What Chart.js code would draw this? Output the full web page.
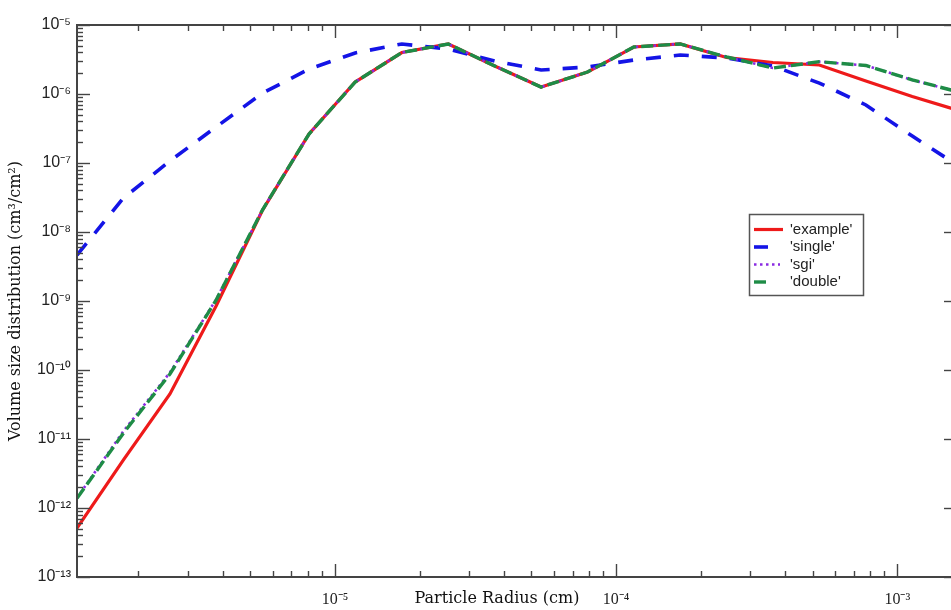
<!DOCTYPE html>
<html>
<head>
<meta charset="utf-8">
<script src="https://cdn.jsdelivr.net/npm/chart.js@4.4.1/dist/chart.umd.min.js"></script>
<style>
  html, body { margin: 0; padding: 0; background: #ffffff; overflow: hidden; }
  #wrap { width: 951px; height: 610px; overflow: hidden; position: relative; }
  canvas { display: block; }
</style>
</head>
<body>
<div id="wrap"><canvas id="c" width="970" height="610"></canvas></div>
<script>
// ---- data ----
const radius = [1.21e-6, 1.77e-6, 2.59e-6, 3.78e-6, 5.53e-6, 8.09e-6, 1.18e-5, 1.73e-5, 2.53e-5, 3.70e-5,
                5.41e-5, 7.91e-5, 1.156e-4, 1.69e-4, 2.47e-4, 3.61e-4, 5.28e-4, 7.73e-4, 1.13e-3, 1.65e-3];
const example = [5.1e-13, 4.97e-12, 4.49e-11, 8.47e-10, 2.08e-8, 2.63e-7, 1.49e-6, 3.99e-6, 5.31e-6, 2.55e-6,
                 1.26e-6, 2.08e-6, 4.80e-6, 5.31e-6, 3.38e-6, 2.86e-6, 2.63e-6, 1.54e-6, 9.2e-7, 5.77e-7];
const single = [4.64e-9, 3.11e-8, 1.07e-7, 3.33e-7, 1.03e-6, 2.30e-6, 3.93e-6, 5.31e-6, 4.49e-6, 3.01e-6,
                2.23e-6, 2.46e-6, 3.11e-6, 3.67e-6, 3.33e-6, 2.55e-6, 1.44e-6, 6.93e-7, 2.46e-7, 9.06e-8];
const sgi = [1.40e-12, 1.30e-11, 9.2e-11, 1.05e-9, 2.1e-8, 2.63e-7, 1.49e-6, 3.99e-6, 5.31e-6, 2.55e-6,
             1.26e-6, 2.08e-6, 4.80e-6, 5.31e-6, 3.44e-6, 2.38e-6, 2.94e-6, 2.59e-6, 1.60e-6, 1.07e-6];
const double = [1.38e-12, 1.22e-11, 8.75e-11, 1.03e-9, 2.1e-8, 2.63e-7, 1.49e-6, 3.99e-6, 5.31e-6, 2.55e-6,
                1.26e-6, 2.08e-6, 4.80e-6, 5.31e-6, 3.44e-6, 2.38e-6, 2.94e-6, 2.59e-6, 1.60e-6, 1.07e-6];
const seriesNames = ["'example'", "'single'", "'sgi'", "'double'"];

const xTickValues = [1e-5, 1e-4, 1e-3];
const xTickLabels = ['10\u207B\u2075', '10\u207B\u2074', '10\u207B\u00B3'];
const yTickValues = [1e-5, 1e-6, 1e-7, 1e-8, 1e-9, 1e-10, 1e-11, 1e-12, 1e-13];
const yTickLabels = ['10\u207B\u2075', '10\u207B\u2076', '10\u207B\u2077', '10\u207B\u2078', '10\u207B\u2079',
                     '10\u207B\u00B9\u2070', '10\u207B\u00B9\u00B9', '10\u207B\u00B9\u00B2', '10\u207B\u00B9\u00B3'];
const xMin = 1.21e-6, xMax = 1.63e-3;
const yMin = 1e-13, yMax = 1e-5;
const xTitle = 'Particle Radius (cm)';
const yTitle = 'Volume size distribution (cm\u00B3/cm\u00B2)';

// ---- helpers ----
function pts(ys) { return radius.map((x, i) => ({ x: x, y: ys[i] })); }
function lookup(vals, labels, v) {
  for (let i = 0; i < vals.length; i++) {
    if (Math.abs(Math.log10(v) - Math.log10(vals[i])) < 1e-4) return labels[i];
  }
  return '';
}

const AXIS = '#444444';

const frameTicks = {
  id: 'frameTicks',
  afterDatasetsDraw(chart) {
    const { ctx, chartArea: a, scales } = chart;
    ctx.save();
    ctx.strokeStyle = AXIS;
    ctx.lineWidth = 1.4;
    const seg = (x1, y1, x2, y2) => { ctx.beginPath(); ctx.moveTo(x1, y1); ctx.lineTo(x2, y2); ctx.stroke(); };
    const each = (sc, fn) => {
      const lo = Math.floor(Math.log10(sc.min)) , hi = Math.ceil(Math.log10(sc.max));
      for (let e = lo; e <= hi; e++) {
        for (let m = 1; m <= 9; m++) {
          const v = m * Math.pow(10, e);
          if (v < sc.min * 0.999 || v > sc.max * 1.001) continue;
          fn(sc.getPixelForValue(v), m === 1);
        }
      }
    };
    each(scales.y, (p, major) => {
      const len = major ? 13 : 6; const py = Math.round(p) + 0.5;
      seg(a.left, py, a.left + len, py); seg(a.right - len, py, a.right, py);
    });
    each(scales.x, (p, major) => {
      const len = major ? 13 : 6; const px = Math.round(p) + 0.5;
      seg(px, a.bottom, px, a.bottom - len); seg(px, a.top, px, a.top + len);
    });
    ctx.lineWidth = 2;
    ctx.strokeRect(a.left, a.top, a.right - a.left, a.bottom - a.top);
    ctx.restore();
  }
};

// x-axis title: drawn on the same row as the tick labels, as in the reference
const xAxisTitle = {
  id: 'xAxisTitle',
  afterDraw(chart) {
    const { ctx } = chart;
    ctx.save();
    ctx.font = '16px "DejaVu Serif", "Liberation Serif", serif';
    ctx.fillStyle = '#111111';
    ctx.textAlign = 'center';
    ctx.textBaseline = 'middle';
    ctx.fillText(xTitle, 497, 599);
    ctx.restore();
  }
};

const boxLegend = {
  id: 'boxLegend',
  afterDraw(chart) {
    const { ctx } = chart;
    const bx = 749, by = 214, bw = 114, bh = 81;
    const sampleLen = [29, 14, 26, 14];
    ctx.save();
    ctx.fillStyle = '#ffffff';
    ctx.fillRect(bx, by, bw, bh);
    ctx.strokeStyle = '#555555';
    ctx.lineWidth = 1.5;
    ctx.setLineDash([]);
    ctx.strokeRect(bx + 0.5, by + 0.5, bw, bh);
    ctx.font = '15px "Liberation Sans", Arial, sans-serif';
    ctx.textBaseline = 'middle';
    ctx.textAlign = 'left';
    chart.data.datasets.forEach((ds, i) => {
      const yy = by + 15.5 + i * 17.5;
      ctx.strokeStyle = ds.borderColor;
      ctx.lineWidth = ds.borderWidth;
      ctx.setLineDash(ds.borderDash || []);
      ctx.lineCap = 'butt';
      ctx.beginPath(); ctx.moveTo(bx + 5, yy); ctx.lineTo(bx + 5 + sampleLen[i], yy); ctx.stroke();
      ctx.setLineDash([]);
      ctx.fillStyle = '#222222';
      ctx.fillText(ds.label, bx + 41, yy);
    });
    ctx.restore();
  }
};

new Chart(document.getElementById('c'), {
  type: 'line',
  data: {
    datasets: [
      { label: seriesNames[0], data: pts(example), borderColor: '#ee1a1a', borderWidth: 3.2, order: 4 },
      { label: seriesNames[1], data: pts(single), borderColor: '#1414e6', borderWidth: 3.6, borderDash: [15, 13], order: 3 },
      { label: seriesNames[2], data: pts(sgi), borderColor: '#8a2be2', borderWidth: 2.6, borderDash: [2.5, 3.5], order: 2 },
      { label: seriesNames[3], data: pts(double), borderColor: '#1e8c46', borderWidth: 3.4, borderDash: [12, 5], order: 1 }
    ]
  },
  options: {
    responsive: false,
    animation: false,
    parsing: true,
    elements: { point: { radius: 0 }, line: { tension: 0, fill: false } },
    layout: { padding: { top: 25, right: 1, left: 0, bottom: 0 } },
    plugins: { legend: { display: false }, tooltip: { enabled: false } },
    scales: {
      x: {
        type: 'logarithmic', min: xMin, max: xMax,
        grid: { display: false, drawTicks: false },
        border: { display: false },
        afterFit(s) { s.height = 33; },
        ticks: {
          autoSkip: false, maxRotation: 0, padding: 13, color: '#222',
          font: { family: '"Liberation Serif", "Times New Roman", serif', size: 16 },
          callback: (v) => lookup(xTickValues, xTickLabels, v)
        },
        title: { display: false, text: xTitle }
      },
      y: {
        type: 'logarithmic', min: yMin, max: yMax,
        grid: { display: false, drawTicks: false },
        border: { display: false },
        afterFit(s) { s.width = 77; },
        ticks: {
          autoSkip: false, padding: 6, color: '#222',
          font: { family: '"Liberation Sans", Arial, sans-serif', size: 16 },
          callback: (v) => lookup(yTickValues, yTickLabels, v)
        },
        title: {
          display: true, text: yTitle, color: '#111',
          font: { family: '"DejaVu Serif", "Liberation Serif", serif', size: 16 },
          padding: { top: 6, bottom: 0 }
        }
      }
    }
  },
  plugins: [frameTicks, xAxisTitle, boxLegend]
});
</script>
</body>
</html>
